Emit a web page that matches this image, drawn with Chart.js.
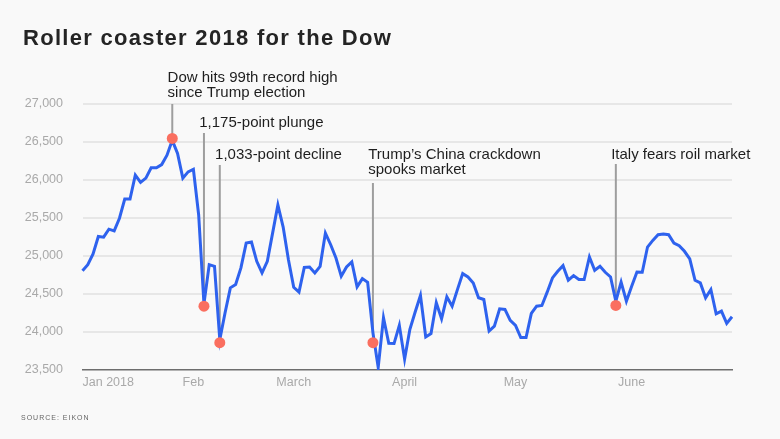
<!DOCTYPE html>
<html>
<head>
<meta charset="utf-8">
<script src="https://cdn.jsdelivr.net/npm/chart.js@4.4.1/dist/chart.umd.min.js"></script>
<style>
  html, body { margin: 0; padding: 0; background: #f9f9f9; }
  #wrap { position: relative; width: 780px; height: 439px; overflow: hidden; }
  #chartBox { position: absolute; left: 0; top: 0; width: 780px; height: 439px; }
  h1 {
    position: absolute; left: 23px; top: 27px; margin: 0;
    font: bold 22px/22px "Liberation Sans", Arial, sans-serif;
    letter-spacing: 1.3px; color: #242424; white-space: nowrap;
  }
  .source {
    position: absolute; left: 21px; top: 414px;
    font: 7px/7px "Liberation Sans", Arial, sans-serif;
    letter-spacing: 1px; color: #666; white-space: nowrap;
  }
</style>
</head>
<body>
<div id="wrap">
  <div id="chartBox"><canvas id="dow"></canvas></div>
  <h1>Roller coaster 2018 for the Dow</h1>
  <div class="source">SOURCE: EIKON</div>
</div>
<script>
// trading days, Jan 2 - Jun 28 2018
const days = [
  'Jan 2','Jan 3','Jan 4','Jan 5','Jan 8','Jan 9','Jan 10','Jan 11','Jan 12','Jan 16','Jan 17','Jan 18','Jan 19','Jan 22','Jan 23','Jan 24','Jan 25','Jan 26','Jan 29','Jan 30','Jan 31',
  'Feb 1','Feb 2','Feb 5','Feb 6','Feb 7','Feb 8','Feb 9','Feb 12','Feb 13','Feb 14','Feb 15','Feb 16','Feb 20','Feb 21','Feb 22','Feb 23','Feb 26','Feb 27','Feb 28',
  'Mar 1','Mar 2','Mar 5','Mar 6','Mar 7','Mar 8','Mar 9','Mar 12','Mar 13','Mar 14','Mar 15','Mar 16','Mar 19','Mar 20','Mar 21','Mar 22','Mar 23','Mar 26','Mar 27','Mar 28','Mar 29',
  'Apr 2','Apr 3','Apr 4','Apr 5','Apr 6','Apr 9','Apr 10','Apr 11','Apr 12','Apr 13','Apr 16','Apr 17','Apr 18','Apr 19','Apr 20','Apr 23','Apr 24','Apr 25','Apr 26','Apr 27','Apr 30',
  'May 1','May 2','May 3','May 4','May 7','May 8','May 9','May 10','May 11','May 14','May 15','May 16','May 17','May 18','May 21','May 22','May 23','May 24','May 25','May 29','May 30','May 31',
  'Jun 1','Jun 4','Jun 5','Jun 6','Jun 7','Jun 8','Jun 11','Jun 12','Jun 13','Jun 14','Jun 15','Jun 18','Jun 19','Jun 20','Jun 21','Jun 22','Jun 25','Jun 26','Jun 27','Jun 28'
];

// Dow close
const dowClose = [
  24807, 24886, 25026, 25257, 25248, 25353, 25331, 25497, 25750, 25750, 26064, 25968, 26025, 26160, 26160, 26203, 26326, 26522, 26350, 26025, 26107,
  26142, 25540, 24370, 24886, 24864, 23900, 24254, 24581, 24625, 24843, 25170, 25183, 24930, 24777, 24930, 25301, 25671, 25380, 24951,
  24589, 24524, 24851, 24855, 24777, 24864, 25301, 25148, 24974, 24733, 24855, 24921, 24594, 24703, 24655, 23992, 23534, 24188, 23852, 23848, 24088,
  23643, 24036, 24263, 24481, 23935, 23979, 24385, 24175, 24463, 24340, 24558, 24768, 24724, 24646, 24450, 24428, 24013, 24078, 24305, 24297, 24153,
  24087, 23926, 23926, 24245, 24340, 24349, 24524, 24712, 24799, 24873, 24681, 24742, 24690, 24690, 24987, 24812, 24864, 24786, 24724, 24405, 24655, 24405,
  24602, 24790, 24786, 25118, 25205, 25280, 25288, 25280, 25170, 25136, 25062, 24961, 24681, 24646, 24450, 24559, 24240, 24275, 24114, 24201
];

const tickDays = ['Jan 2', 'Feb 1', 'Mar 1', 'Apr 2', 'May 1', 'Jun 1'];
const tickNames = ['Jan 2018', 'Feb', 'March', 'April', 'May', 'June'];
const yMin = 23500, yMax = 27000, yStep = 500;

// annotated days
const noteDays = ['Jan 26', 'Feb 5', 'Feb 8', 'Mar 22', 'May 29'];
const noteValues = [26547, 24340, 23860, 23860, 24349];
const noteTexts = [
  ['Dow hits 99th record high', 'since Trump election'],
  ['1,175-point plunge'],
  ['1,033-point decline'],
  ['Trump\u2019s China crackdown', 'spooks market'],
  ['Italy fears roil market']
];

// where the notes sit (pixels)
const noteBaseline = [81.7, 127.3, 159.3, 159, 159];
const noteLineTop = [104, 133, 165, 183, 164];

const markers = days.map(d => {
  const k = noteDays.indexOf(d);
  return k < 0 ? null : noteValues[k];
});

Chart.defaults.font.family = '"Liberation Sans", Arial, sans-serif';

const notePlugin = {
  id: 'notes',
  beforeDatasetsDraw(chart) {
    const { ctx, scales: { x, y } } = chart;
    ctx.save();
    ctx.strokeStyle = '#9e9e9e';
    ctx.lineWidth = 2;
    noteDays.forEach((d, i) => {
      const px = x.getPixelForValue(days.indexOf(d));
      ctx.beginPath();
      ctx.moveTo(px, noteLineTop[i]);
      ctx.lineTo(px, y.getPixelForValue(noteValues[i]));
      ctx.stroke();
    });
    ctx.restore();
  },
  afterDraw(chart) {
    const { ctx, scales: { x } } = chart;
    ctx.save();
    ctx.font = '15px "Liberation Sans", Arial, sans-serif';
    ctx.fillStyle = '#1e1e1e';
    ctx.textBaseline = 'alphabetic';
    ctx.textAlign = 'left';
    noteDays.forEach((d, i) => {
      const px = x.getPixelForValue(days.indexOf(d)) - 4.7;
      noteTexts[i].forEach((line, j) => {
        ctx.fillText(line, px, noteBaseline[i] + j * 15);
      });
    });
    ctx.restore();
  }
};

new Chart(document.getElementById('dow'), {
  type: 'line',
  data: {
    labels: days,
    datasets: [
      {
        data: dowClose,
        borderColor: '#2e62ee',
        borderWidth: 3,
        pointRadius: 0,
        pointHoverRadius: 0,
        tension: 0,
        fill: false,
        order: 1
      },
      {
        data: markers,
        showLine: false,
        pointRadius: 5.5,
        pointHoverRadius: 5.5,
        pointBackgroundColor: '#fa6f60',
        pointBorderWidth: 0,
        order: 0
      }
    ]
  },
  options: {
    responsive: true,
    maintainAspectRatio: false,
    animation: false,
    devicePixelRatio: 1,
    layout: { padding: { left: 0, top: 104, right: 48, bottom: 39 } },
    plugins: { legend: { display: false }, tooltip: { enabled: false } },
    scales: {
      x: {
        grid: { display: false, drawTicks: false },
        border: { display: true, color: '#6e6e6e', width: 1.5 },
        ticks: {
          autoSkip: false,
          maxRotation: 0,
          minRotation: 0,
          align: 'inner',
          padding: 5,
          color: '#a9a9a9',
          font: { size: 12.5 },
          callback: (v, i) => {
            const k = tickDays.indexOf(days[i]);
            return k < 0 ? '' : tickNames[k];
          }
        },
        afterFit: s => { s.height = 30; }
      },
      y: {
        min: yMin,
        max: yMax,
        grid: {
          color: c => c.tick && c.tick.value === yMin ? 'rgba(0,0,0,0)' : '#e7e7e7',
          lineWidth: 2,
          drawTicks: false
        },
        border: { display: false },
        ticks: {
          stepSize: yStep,
          padding: 19.5,
          color: '#a9a9a9',
          font: { size: 12.5 },
          callback: v => v.toLocaleString('en-US')
        },
        afterFit: s => { s.width = 82.5; }
      }
    }
  },
  plugins: [notePlugin]
});
</script>
</body>
</html>
